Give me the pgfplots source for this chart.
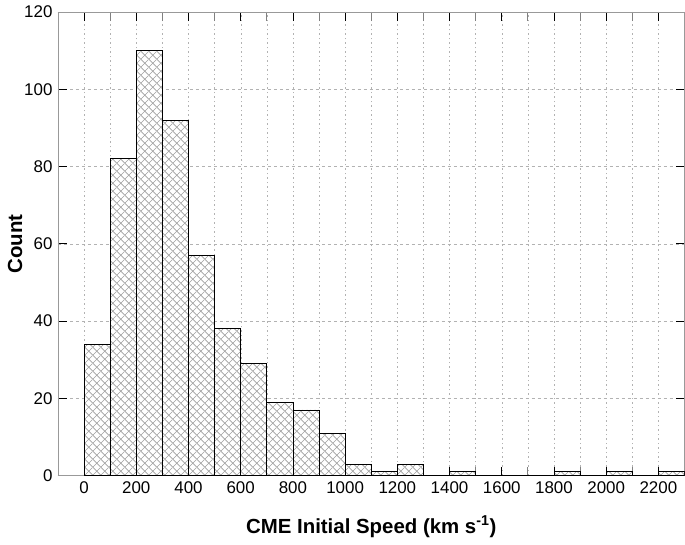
\documentclass[border=0pt]{standalone}
\usepackage{pgfplots}
\pgfplotsset{compat=1.18}
\usepackage{fontspec}
\setmainfont{Liberation Sans}
\usetikzlibrary{patterns.meta}
\tikzdeclarepattern{
  name=xhatch,
  type=uncolored,
  bounding box={(0,0) and (7.8bp,7.8bp)},
  tile size={(7.8bp,7.8bp)},
  code={
    \draw[line width=0.7pt] (0,0) -- (7.8bp,7.8bp);
    \draw[line width=0.7pt] (0,7.8bp) -- (7.8bp,0);
  }
}
\begin{document}
\begin{tikzpicture}
\begin{axis}[
  scale only axis,
  width=627bp, height=464bp,
  xmin=-100, xmax=2300,
  ymin=0, ymax=120,
  xtick={0,200,...,2200},
  minor xtick={100,300,...,2300},
  ytick={0,20,...,120},
  xmajorgrids, xminorgrids, ymajorgrids,
  x grid style={gray!60, dash pattern=on 1.5bp off 3bp},
  y grid style={gray!60, dash pattern=on 3bp off 3bp},
  minor grid style={gray!60, dash pattern=on 1.5bp off 3bp},
  tick align=inside,
  major tick length=9bp,
  minor tick length=9bp,
  tick style={black, line width=0.8bp},
  minor tick style={gray, line width=0.8bp},
  axis line style={gray!80, line width=0.8bp},
  tick label style={font=\fontsize{17}{19}\selectfont},
  /pgf/number format/assume math mode=true,
  /pgf/number format/1000 sep={},
  xticklabel style={yshift=-3bp},
  yticklabel style={xshift=-2bp},
  xlabel={\textbf{CME Initial Speed (km s\textsuperscript{-1})}},
  ylabel={\textbf{Count}},
  label style={font=\fontsize{20.5}{23}\selectfont},
  xlabel style={yshift=-15bp},
  ylabel style={yshift=-5bp},
]
\addplot[ybar interval, draw=black, line width=0.8bp, fill=white,
  postaction={pattern=xhatch, pattern color=gray!75}] coordinates {
(0,34) (100,82) (200,110) (300,92) (400,57) (500,38) (600,29) (700,19)
(800,17) (900,11) (1000,3) (1100,1) (1200,3) (1300,0) (1400,1) (1500,0)
(1600,0) (1700,0) (1800,1) (1900,0) (2000,1) (2100,0) (2200,1) (2300,1)
};
\end{axis}
\pgfresetboundingbox
\path ([shift={(-58bp,-69bp)}]current axis.south west) rectangle ([shift={(0.5bp,12bp)}]current axis.north east);
\end{tikzpicture}
\end{document}
